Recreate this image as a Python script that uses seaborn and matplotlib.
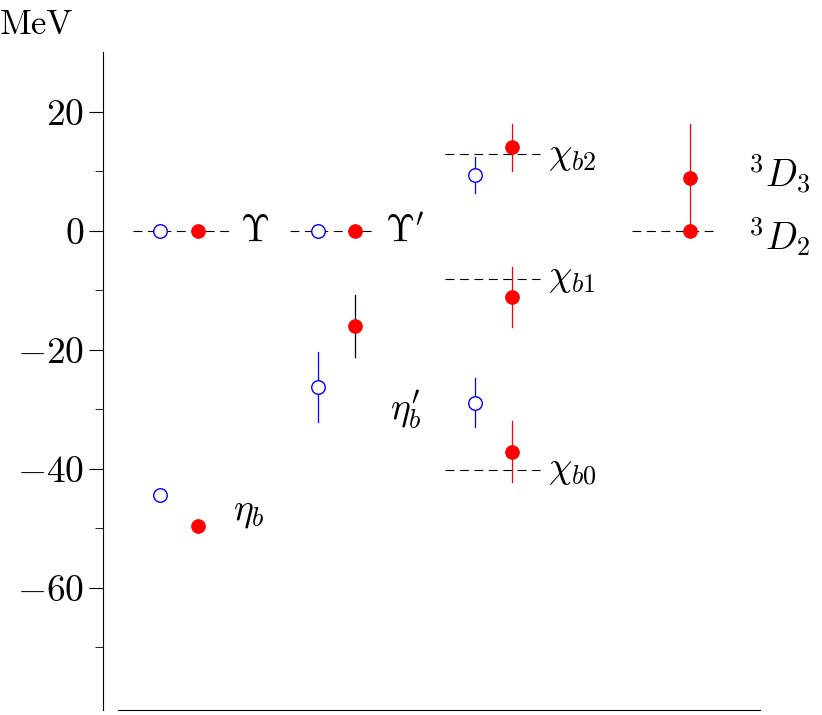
import matplotlib
matplotlib.use("Agg")
import matplotlib.pyplot as plt
import seaborn as sns

plt.rcParams.update({"font.family": "serif", "font.serif": ["cmr10"],
                     "mathtext.fontset": "cm", "axes.formatter.use_mathtext": True,
                     "axes.unicode_minus": True})

# lattice (blue open) points
blue_x = [160, 160, 318, 318, 475, 475]
blue_y = [0.0, -44.4, 0.0, -26.2, 9.4, -28.9]
blue_err = [0, 0, 0, 5.9, 3.0, 4.1]
# red filled points
red_x = [198, 198, 355, 355, 512, 512, 512, 690, 690]
red_y = [0.0, -49.6, 0.0, -16.0, 14.0, -11.1, -37.1, 8.9, 0.0]
red_err = [0, 0, 0, 5.2, 4.0, 5.0, 5.1, 9.0, 0]
red_err_color = ["r", "r", "r", "k", "r", "r", "r", "r", "r"]
# experimental dashed levels
lev_y = [0.0, 0.0, 12.9, -8.1, -40.2, 0.0]
lev_x0 = [133, 290, 445, 445, 445, 632]
lev_x1 = [232, 372, 540, 540, 540, 715]
labels = [r"$\Upsilon$", r"$\Upsilon'$", r"$\eta_b$", r"$\eta_b'$", r"$\chi_{b2}$",
          r"$\chi_{b1}$", r"$\chi_{b0}$", r"$^3D_3$", r"$^3D_2$"]
label_x = [240, 385, 233, 390, 548, 548, 548, 748, 748]
label_y = [0.0, 0.0, -47.5, -30.0, 12.5, -8.0, -40.2, 9.5, -1.0]

fig = plt.figure(figsize=(8.22, 7.15), dpi=100)
ax = fig.add_axes([0.125, 0.007, 0.80, 0.92])

for y, a, b in zip(lev_y, lev_x0, lev_x1):
    ax.plot([a, b], [y, y], ls=(0, (8, 5)), color="k", lw=0.8, zorder=1)
for x, y, e in zip(blue_x, blue_y, blue_err):
    if e:
        ax.plot([x, x], [y - e, y + e], color="b", lw=0.9, zorder=2)
for x, y, e, c in zip(red_x, red_y, red_err, red_err_color):
    if e:
        ax.plot([x, x], [y - e, y + e], color=c, lw=0.9, zorder=2)

sns.scatterplot(x=blue_x, y=blue_y, ax=ax, marker="o", s=95, facecolor="white",
                edgecolor="b", linewidth=1.0, zorder=3)
sns.scatterplot(x=red_x, y=red_y, ax=ax, marker="o", s=95, color="r",
                edgecolor="r", zorder=3)

for t, x, y in zip(labels, label_x, label_y):
    ax.text(x, y, t, fontsize=27, ha="left", va="center", clip_on=False)

ax.set_xlim(103, 760)
ax.set_ylim(-80.5, 30)
ax.set_yticks([20, 0, -20, -40, -60])
ax.set_yticks([10, -10, -30, -50, -70], minor=True)
ax.tick_params(axis="y", which="major", length=10, labelsize=27, direction="out")
ax.tick_params(axis="y", which="minor", length=6)
ax.set_xticks([])
for s in ["top", "right"]:
    ax.spines[s].set_visible(False)
ax.spines["bottom"].set_bounds(118, 760)
ax.spines["left"].set_linewidth(0.8)
ax.spines["bottom"].set_linewidth(0.8)
fig.text(0.0, 0.965, "MeV", fontsize=25, va="center")
fig.savefig("out.png", dpi=100)
